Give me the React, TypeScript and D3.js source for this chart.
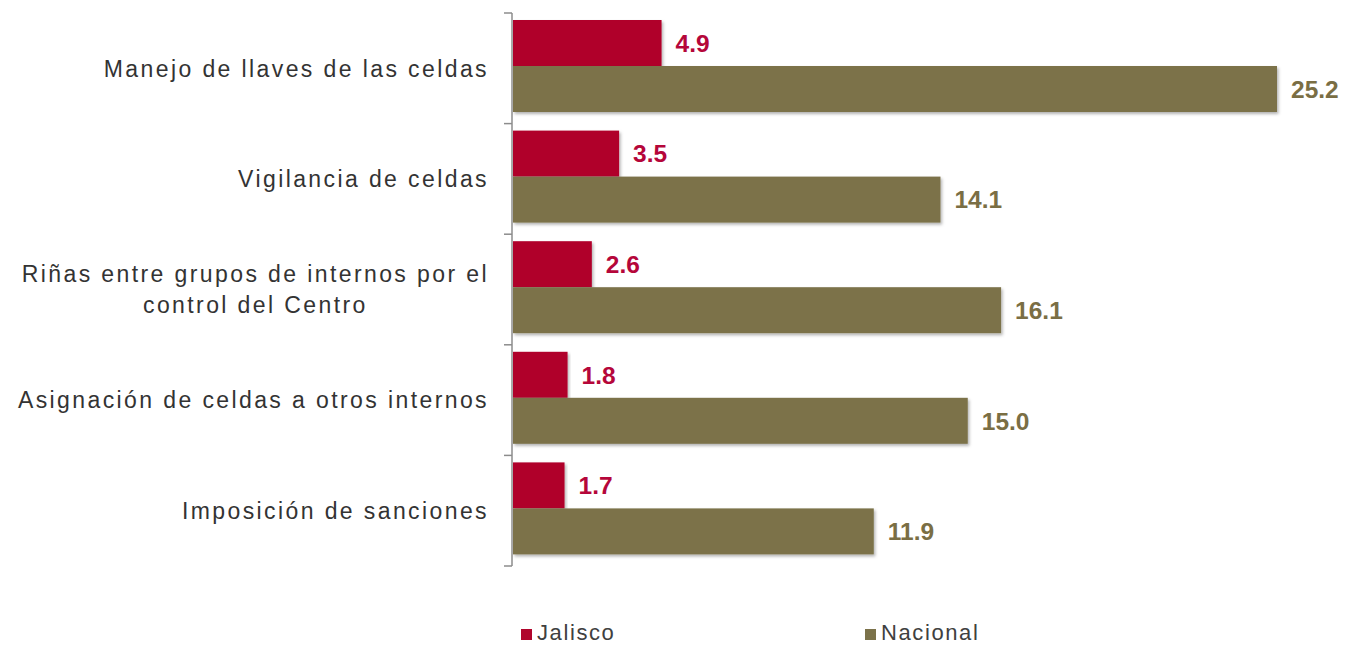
import { useRef, useEffect } from "react";
import * as d3 from "d3";

const categories = [
  ["Manejo de llaves de las celdas"],
  ["Vigilancia de celdas"],
  ["Riñas entre grupos de internos por el", "control del Centro"],
  ["Asignación de celdas a otros internos"],
  ["Imposición de sanciones"],
];
const jalisco = [4.9, 3.5, 2.6, 1.8, 1.7];
const nacional = [25.2, 14.1, 16.1, 15.0, 11.9];
const seriesNames = ["Jalisco", "Nacional"];
const colors = ["#b0052c", "#7b724a"];
const labelColors = ["#b5063a", "#7a6e44"];

export default function App() {
  const ref = useRef<SVGSVGElement | null>(null);

  useEffect(() => {
    if (!ref.current) return;
    document.body.style.margin = "0";

    const width = 1345;
    const height = 646;
    const axisX = 512;
    const top = 13;
    const bottom = 566;
    const font = "Liberation Sans, Arial, sans-serif";

    const root = d3.select(ref.current);
    root.selectAll("*").remove();
    root.attr("width", width).attr("height", height);

    const defs = root.append("defs");
    const f = defs
      .append("filter")
      .attr("id", "shadow")
      .attr("x", "-5%")
      .attr("y", "-20%")
      .attr("width", "110%")
      .attr("height", "150%");
    f.append("feDropShadow")
      .attr("dx", 1.5)
      .attr("dy", 2)
      .attr("stdDeviation", 1.5)
      .attr("flood-color", "#000")
      .attr("flood-opacity", 0.3);

    const idx = categories.map((_, i) => String(i));
    // one band per category, ticks at the band edges
    const y = d3.scaleBand().domain(idx).range([top, bottom]).padding(0);
    const ySub = d3.scaleBand().domain(seriesNames).range([7, 99]);
    const x = d3.scaleLinear().domain([0, 25.2]).range([axisX + 1, 1277]);

    const data = [jalisco, nacional];

    data.forEach((vals, s) => {
      const g = root.append("g");
      g.selectAll("rect")
        .data(vals)
        .join("rect")
        .attr("x", x(0))
        .attr("y", (_, i) => (y(String(i)) as number) + (ySub(seriesNames[s]) as number))
        .attr("width", (d) => x(d) - x(0))
        .attr("height", ySub.bandwidth())
        .attr("fill", colors[s])
        .attr("filter", "url(#shadow)");
      g.selectAll("text")
        .data(vals)
        .join("text")
        .attr("x", (d) => x(d) + 14)
        .attr("y", (_, i) => (y(String(i)) as number) + (ySub(seriesNames[s]) as number) + ySub.bandwidth() / 2)
        .attr("dy", "0.36em")
        .attr("font-family", font)
        .attr("font-weight", "bold")
        .attr("font-size", 24.5)
        .attr("fill", labelColors[s])
        .text((d) => d.toFixed(1));
    });

    // axis line with ticks
    const ticks = d3.range(categories.length + 1).map((i) => top + i * y.step());
    const axis = root.append("g").attr("stroke", "#8c8c8c").attr("stroke-width", 1.5);
    axis.append("line").attr("x1", axisX).attr("x2", axisX).attr("y1", top).attr("y2", bottom);
    axis
      .selectAll("line.tick")
      .data(ticks)
      .join("line")
      .attr("class", "tick")
      .attr("x1", axisX - 8)
      .attr("x2", axisX)
      .attr("y1", (d) => d)
      .attr("y2", (d) => d);

    // category labels
    const catG = root.append("g");
    categories.forEach((lines, i) => {
      const mid = (y(String(i)) as number) + y.bandwidth() / 2;
      const t = catG
        .append("text")
        .attr("font-family", font)
        .attr("font-size", 23)
        .attr("letter-spacing", 2.4)
        .attr("fill", "#333")
        .attr("text-anchor", "middle");
      lines.forEach((ln, j) => {
        t.append("tspan")
          .attr("x", 0)
          .attr("y", mid + (j - (lines.length - 1) / 2) * 31)
          .attr("dy", "0.36em")
          .text(ln);
      });
      const w = (t.node() as SVGTextElement).getBBox().width;
      t.selectAll("tspan").attr("x", 489 - w / 2);
    });

    // legend
    const leg = root.append("g");
    const legX = [521, 865];
    seriesNames.forEach((name, s) => {
      leg
        .append("rect")
        .attr("x", legX[s])
        .attr("y", 629)
        .attr("width", 11)
        .attr("height", 11)
        .attr("fill", colors[s]);
      leg
        .append("text")
        .attr("x", legX[s] + 16)
        .attr("y", 640)
        .attr("font-family", font)
        .attr("font-size", 22)
        .attr("letter-spacing", 1.6)
        .attr("fill", "#404040")
        .text(name);
    });
  }, []);

  return <svg ref={ref} style={{ display: "block" }} />;
}
